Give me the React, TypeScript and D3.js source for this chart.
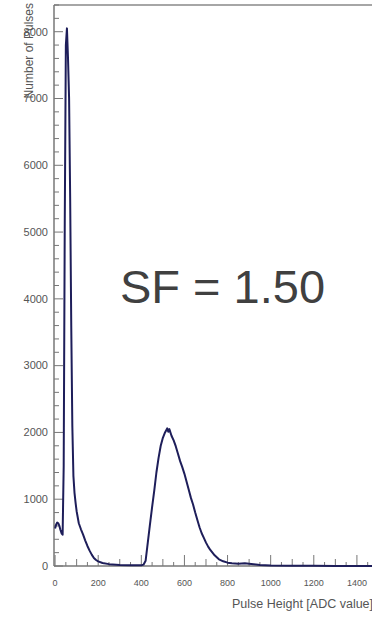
import { useEffect, useRef } from "react";
import * as d3 from "d3";

// pulse height spectrum (ADC value, counts)
const adcValues = [
  0, 5, 10, 15, 20, 25, 30, 35, 40, 45, 50, 55, 60, 65, 70, 75, 80, 85, 90, 95,
  100, 110, 120, 130, 140, 150, 160, 170, 180, 190, 200, 220, 250, 300, 350,
  400, 410, 420, 430, 440, 450, 460, 470, 480, 490, 500, 510, 520, 525, 530,
  540, 550, 560, 570, 580, 590, 600, 610, 620, 630, 640, 650, 660, 670, 680,
  690, 700, 710, 720, 730, 740, 750, 760, 780, 800, 820, 850, 880, 910, 950,
  1000, 1100, 1200, 1300, 1470,
];
const pulseCounts = [
  560, 620, 650, 640, 600, 540, 490, 470, 1500, 5200, 7800, 8050, 7600, 7000,
  5500, 3600, 2100, 1350, 1100, 950, 820, 640, 550, 470, 380, 300, 230, 170,
  120, 90, 70, 45, 28, 15, 10, 10, 20, 80, 350, 620, 880, 1130, 1400, 1620,
  1800, 1920, 2000, 2060, 2010, 2050, 1950, 1880, 1790, 1680, 1570, 1480, 1380,
  1260, 1140, 1020, 920, 800, 690, 580, 490, 420, 350, 290, 240, 200, 160, 130,
  100, 70, 50, 40, 35, 40, 30, 15, 8, 4, 2, 1, 0,
];

const yTicks = [0, 1000, 2000, 3000, 4000, 5000, 6000, 7000, 8000];
const xTicks = [0, 200, 400, 600, 800, 1000, 1200, 1400];

const App = () => {
  const ref = useRef<SVGSVGElement>(null);

  useEffect(() => {
    const svg = d3.select(ref.current);
    svg.selectAll("*").remove();

    const width = 372;
    const height = 621;
    const font = "'Liberation Sans', Arial, sans-serif";

    const xScale = d3.scaleLinear().domain([-5, 1470]).range([54, 372]);
    const yScale = d3.scaleLinear().domain([0, 8400]).range([566, 5]);

    const x0 = xScale(-5);
    const y0 = yScale(0);

    // frame: top line and the two axes
    svg
      .append("line")
      .attr("x1", x0)
      .attr("x2", width)
      .attr("y1", yScale(8400))
      .attr("y2", yScale(8400))
      .attr("stroke", "#888")
      .attr("stroke-width", 1.5);

    svg
      .append("line")
      .attr("x1", x0)
      .attr("x2", x0)
      .attr("y1", yScale(8400))
      .attr("y2", y0)
      .attr("stroke", "#777")
      .attr("stroke-width", 1.5);

    svg
      .append("line")
      .attr("x1", x0)
      .attr("x2", width)
      .attr("y1", y0)
      .attr("y2", y0)
      .attr("stroke", "#777")
      .attr("stroke-width", 1.5);

    // y ticks (inside the frame)
    const yMinor = d3.range(0, 8401, 200);
    svg
      .selectAll(".ytick")
      .data(yMinor)
      .enter()
      .append("line")
      .attr("x1", x0)
      .attr("x2", (d) => x0 + (d % 1000 === 0 ? 9 : 5))
      .attr("y1", (d) => yScale(d))
      .attr("y2", (d) => yScale(d))
      .attr("stroke", "#777")
      .attr("stroke-width", 1);

    svg
      .selectAll(".ylabel")
      .data(yTicks)
      .enter()
      .append("text")
      .attr("x", 48)
      .attr("y", (d) => yScale(d))
      .attr("dy", "0.35em")
      .attr("text-anchor", "end")
      .attr("font-family", font)
      .attr("font-size", "11px")
      .attr("fill", "#555")
      .text((d) => String(d));

    // x ticks
    const xMinor = d3.range(0, 1470, 50);
    svg
      .selectAll(".xtick")
      .data(xMinor)
      .enter()
      .append("line")
      .attr("x1", (d) => xScale(d))
      .attr("x2", (d) => xScale(d))
      .attr("y1", y0)
      .attr("y2", (d) => y0 - (d % 200 === 0 ? 11 : d % 100 === 0 ? 7 : 4))
      .attr("stroke", "#777")
      .attr("stroke-width", 1);

    svg
      .selectAll(".xlabel")
      .data(xTicks)
      .enter()
      .append("text")
      .attr("x", (d) => xScale(d))
      .attr("y", 586)
      .attr("text-anchor", "middle")
      .attr("font-family", font)
      .attr("font-size", "9px")
      .attr("fill", "#555")
      .text((d) => String(d));

    // axis titles
    svg
      .append("text")
      .attr("x", 232)
      .attr("y", 608)
      .attr("font-family", font)
      .attr("font-size", "12.5px")
      .attr("fill", "#555")
      .text("Pulse Height [ADC value]");

    svg
      .append("text")
      .attr("transform", "translate(33,3) rotate(-90)")
      .attr("text-anchor", "end")
      .attr("font-family", font)
      .attr("font-size", "12px")
      .attr("fill", "#555")
      .text("Number of Pulses");

    // spectrum
    const points: [number, number][] = adcValues.map((a, i) => [a, pulseCounts[i]]);
    const line = d3
      .line<[number, number]>()
      .x((d) => xScale(d[0]))
      .y((d) => yScale(d[1]))
      .curve(d3.curveLinear);

    svg
      .append("path")
      .datum(points)
      .attr("d", line)
      .attr("fill", "none")
      .attr("stroke", "#1e1e5a")
      .attr("stroke-width", 2)
      .attr("stroke-linejoin", "round");

    // scale factor label
    svg
      .append("text")
      .attr("x", 120)
      .attr("y", 303)
      .attr("font-family", font)
      .attr("font-size", "47px")
      .attr("fill", "#404040")
      .text("SF = 1.50");

    svg.attr("width", width).attr("height", height);
  }, []);

  return (
    <svg
      ref={ref}
      width={372}
      height={621}
      style={{ position: "absolute", left: 0, top: 0, background: "#fff" }}
    />
  );
};

export default App;
